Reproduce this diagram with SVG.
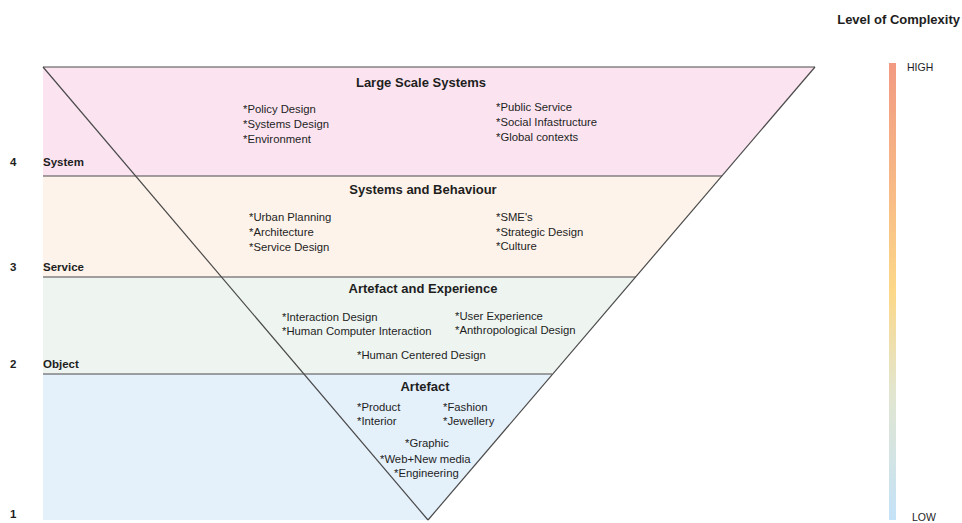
<svg xmlns="http://www.w3.org/2000/svg" width="962" height="523" viewBox="0 0 962 523">
  <defs>
    <linearGradient id="complexity" x1="0" y1="0" x2="0" y2="1">
      <stop offset="0" stop-color="#f29a82"/>
      <stop offset="0.3" stop-color="#f8bd86"/>
      <stop offset="0.5" stop-color="#fcd888"/>
      <stop offset="0.72" stop-color="#e2e6cf"/>
      <stop offset="1" stop-color="#c4e2f8"/>
    </linearGradient>
    <style>
      text { font-family: "Liberation Sans", Arial, sans-serif; fill: #1e1e1e; }
      .title { font-size: 13px; font-weight: bold; text-anchor: middle; }
      .item { font-size: 11.3px; }
      .level { font-size: 11.5px; font-weight: bold; }
      .scale { font-size: 10.5px; }
      .edge { stroke: #4a4a4a; stroke-width: 1.2; fill: none; }
    </style>
  </defs>
  <rect width="962" height="523" fill="#ffffff"/>

  <!-- band fills -->
  <g id="band-system">
    <polygon points="43,67 815,67 722,176 43,176" fill="#fbe4f0"/>
  </g>
  <g id="band-service">
    <polygon points="43,176 722,176 636,277 43,277" fill="#fdf3ea"/>
  </g>
  <g id="band-object">
    <polygon points="43,277 636,277 552,374 43,374" fill="#eef5f1"/>
  </g>
  <g id="band-artefact">
    <polygon points="43,374 552,374 428,520 43,520" fill="#e4f0fa"/>
  </g>

  <!-- outline and band separators -->
  <g id="connectors">
    <line class="edge" x1="43" y1="67" x2="815" y2="67"/>
    <line class="edge" x1="815" y1="67" x2="428" y2="520"/>
    <line class="edge" x1="43" y1="67" x2="428" y2="520"/>
    <line class="edge" x1="43" y1="176" x2="722" y2="176"/>
    <line class="edge" x1="43" y1="277" x2="636" y2="277"/>
    <line class="edge" x1="43" y1="374" x2="552" y2="374"/>
  </g>

  <!-- band contents -->
  <g id="large-scale-systems">
    <text class="title" x="421" y="87">Large Scale Systems</text>
    <text class="item" x="243" y="113">*Policy Design</text>
    <text class="item" x="243" y="128">*Systems Design</text>
    <text class="item" x="243" y="143">*Environment</text>
    <text class="item" x="496" y="111">*Public Service</text>
    <text class="item" x="496" y="126">*Social Infastructure</text>
    <text class="item" x="496" y="141">*Global contexts</text>
  </g>
  <g id="systems-and-behaviour">
    <text class="title" x="423" y="194">Systems and Behaviour</text>
    <text class="item" x="249" y="221">*Urban Planning</text>
    <text class="item" x="249" y="236">*Architecture</text>
    <text class="item" x="249" y="251">*Service Design</text>
    <text class="item" x="496" y="221">*SME's</text>
    <text class="item" x="496" y="236">*Strategic Design</text>
    <text class="item" x="496" y="250">*Culture</text>
  </g>
  <g id="artefact-and-experience">
    <text class="title" x="423" y="293">Artefact and Experience</text>
    <text class="item" x="282" y="321">*Interaction Design</text>
    <text class="item" x="282" y="335">*Human Computer Interaction</text>
    <text class="item" x="455" y="320">*User Experience</text>
    <text class="item" x="455" y="334">*Anthropological Design</text>
    <text class="item" x="357" y="359">*Human Centered Design</text>
  </g>
  <g id="artefact">
    <text class="title" x="425" y="391">Artefact</text>
    <text class="item" x="357" y="411">*Product</text>
    <text class="item" x="357" y="425">*Interior</text>
    <text class="item" x="443" y="411">*Fashion</text>
    <text class="item" x="443" y="425">*Jewellery</text>
    <text class="item" x="405" y="447">*Graphic</text>
    <text class="item" x="380" y="463">*Web+New media</text>
    <text class="item" x="394" y="477">*Engineering</text>
  </g>

  <!-- level labels -->
  <g id="levels">
    <text class="level" x="10" y="166">4</text>
    <text class="level" x="43" y="166">System</text>
    <text class="level" x="10" y="271">3</text>
    <text class="level" x="43" y="271">Service</text>
    <text class="level" x="10" y="368">2</text>
    <text class="level" x="43" y="368">Object</text>
    <text class="level" x="10" y="518">1</text>
  </g>

  <!-- complexity scale -->
  <g id="complexity-scale">
    <text x="960" y="24" font-size="13" font-weight="bold" text-anchor="end">Level of Complexity</text>
    <rect x="889" y="63" width="7" height="457" fill="url(#complexity)"/>
    <text class="scale" x="907" y="71">HIGH</text>
    <text class="scale" x="912" y="521">LOW</text>
  </g>
</svg>
